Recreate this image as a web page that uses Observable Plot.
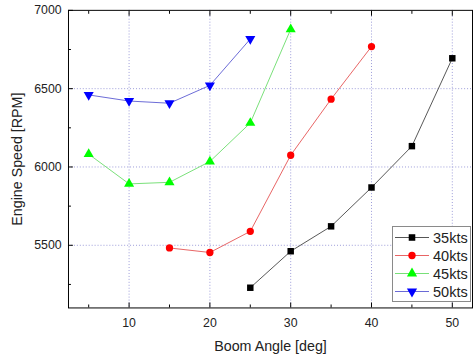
<!DOCTYPE html>
<html>
<head>
<meta charset="utf-8">
<script src="https://cdn.jsdelivr.net/npm/d3@7"></script>
<script src="https://cdn.jsdelivr.net/npm/@observablehq/plot@0.6"></script>
<style>
  html, body { margin: 0; padding: 0; background: #fff; overflow: hidden; }
  #wrap { position: relative; width: 473px; height: 362px; overflow: hidden; font-family: "Liberation Sans", Arial, sans-serif; }
  #legend { position: absolute; left: 392px; top: 226px; }
</style>
</head>
<body>
<div id="wrap"></div>
<script>
// ---- data ----
const seriesNames = ["35kts", "40kts", "45kts", "50kts"];
const angles35 = [25, 30, 35, 40, 45, 50];
const rpm35    = [5229, 5462, 5621, 5869, 6133, 6694];
const angles40 = [15, 20, 25, 30, 35, 40];
const rpm40    = [5483, 5454, 5589, 6075, 6433, 6769];
const angles45 = [5, 10, 15, 20, 25, 30];
const rpm45    = [6082, 5892, 5902, 6035, 6281, 6879];
const angles50 = [5, 10, 15, 20, 25];
const rpm50    = [6460, 6421, 6407, 6521, 6817];

const xMajor = [10, 20, 30, 40, 50];
const xMinor = [5, 15, 25, 35, 45];
const yMajor = [5500, 6000, 6500, 7000];
const yMinor = [5250, 5750, 6250, 6750];
const yGrid  = [5500, 6000, 6500];

const markerColors = ["#000000", "#ff0000", "#00ff00", "#0000ff"];
const lineColors   = ["#555555", "#e86464", "#78e078", "#6a6ad6"];

// down-pointing triangle symbol
const triangleDown = {
  draw(context, size) {
    const y = -Math.sqrt(size / (Math.sqrt(3) * 3));
    context.moveTo(0, -y * 2);
    context.lineTo(-Math.sqrt(3) * y, y);
    context.lineTo(Math.sqrt(3) * y, y);
    context.closePath();
  }
};
const symbols = [d3.symbolSquare, d3.symbolCircle, d3.symbolTriangle, triangleDown];
const radii = [3.7, 3.7, 3.8, 3.8];

const allAngles = [angles35, angles40, angles45, angles50];
const allRpm = [rpm35, rpm40, rpm45, rpm50];
const rows = [];
seriesNames.forEach((s, i) => {
  allAngles[i].forEach((a, j) => rows.push({series: s, idx: i, angle: a, rpm: allRpm[i][j]}));
});

const marks = [
  Plot.ruleX(xMajor, {stroke: "#9a9ad8", strokeDasharray: "1,2", strokeWidth: 1}),
  Plot.ruleY(yGrid, {stroke: "#9a9ad8", strokeDasharray: "1,2", strokeWidth: 1}),
];
seriesNames.forEach((s, i) => {
  const d = rows.filter(r => r.idx === i);
  marks.push(Plot.line(d, {x: "angle", y: "rpm", stroke: lineColors[i], strokeWidth: 1}));
});
seriesNames.forEach((s, i) => {
  const d = rows.filter(r => r.idx === i);
  marks.push(Plot.dot(d, {x: "angle", y: "rpm", fill: markerColors[i], stroke: "none", symbol: () => symbols[i], r: radii[i]}));
});
marks.push(
  Plot.frame({stroke: "#000", strokeWidth: 1}),
  // inward ticks
  Plot.axisX({ticks: xMajor, tickSize: -5, text: null, label: null, anchor: "bottom"}),
  Plot.axisX({ticks: xMinor, tickSize: -3, text: null, label: null, anchor: "bottom"}),
  Plot.axisX({ticks: xMajor, tickSize: -5, text: null, label: null, anchor: "top"}),
  Plot.axisX({ticks: xMinor, tickSize: -3, text: null, label: null, anchor: "top"}),
  Plot.axisY({ticks: yMajor, tickSize: -5, text: null, label: null, anchor: "left"}),
  Plot.axisY({ticks: yMinor, tickSize: -3, text: null, label: null, anchor: "left"}),
  // labels
  Plot.axisX({ticks: xMajor, tickSize: 0, tickPadding: 10, fontSize: 12.5, label: null, anchor: "bottom", fill: "#222", tickFormat: d3.format("d")}),
  Plot.axisY({ticks: yMajor, tickSize: 0, tickPadding: 7, fontSize: 12.5, label: null, anchor: "left", fill: "#222", tickFormat: d3.format("d")}),
  Plot.axisX({ticks: [], label: "Boom Angle [deg]", labelAnchor: "center", labelArrow: "none", labelOffset: 44, fontSize: 14.5, anchor: "bottom", fill: "#222"}),
  Plot.axisY({ticks: [], label: "Engine Speed [RPM]", labelAnchor: "center", labelArrow: "none", labelOffset: 57, fontSize: 14.5, anchor: "left", fill: "#222"})
);

const chart = Plot.plot({
  width: 480,
  height: 362,
  marginLeft: 69,
  marginRight: 1,
  marginTop: 10,
  marginBottom: 50,
  style: {fontFamily: "'Liberation Sans', Arial, sans-serif", background: "#fff", overflow: "visible"},
  x: {domain: [2.5, 52.5]},
  y: {domain: [5100, 7000]},
  marks
});
const wrap = document.getElementById("wrap");
wrap.appendChild(chart);

// ---- legend ----
const lw = 78, lh = 75;
const legend = d3.select(wrap).append("svg")
  .attr("id", "legend").attr("width", lw + 2).attr("height", lh + 2);
legend.append("rect").attr("x", 0.5).attr("y", 0.5).attr("width", lw).attr("height", lh)
  .attr("fill", "#fff").attr("stroke", "#8a8a8a").attr("stroke-width", 1);
seriesNames.forEach((s, i) => {
  const cy = 11.5 + i * 18;
  const g = legend.append("g");
  g.append("line").attr("x1", 3).attr("x2", 37).attr("y1", cy).attr("y2", cy)
    .attr("stroke", lineColors[i]).attr("stroke-width", 1);
  g.append("path").attr("transform", `translate(20,${cy})`)
    .attr("d", d3.symbol(symbols[i], Math.PI * radii[i] * radii[i])())
    .attr("fill", markerColors[i]);
  g.append("text").attr("x", 41).attr("y", cy).attr("dy", "0.36em")
    .attr("font-size", 14.5).attr("fill", "#222")
    .attr("font-family", "'Liberation Sans', Arial, sans-serif").text(s);
});
</script>
</body>
</html>
